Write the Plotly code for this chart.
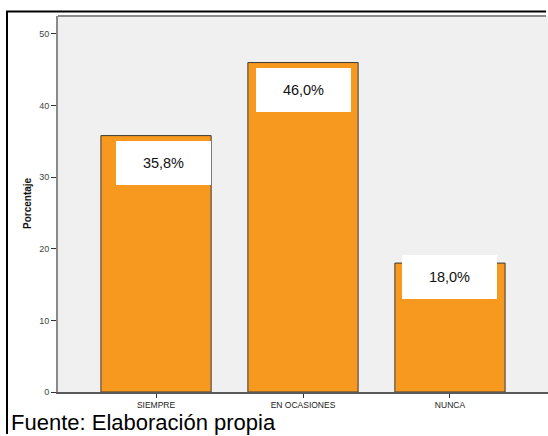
import plotly.graph_objects as go

# Survey responses and their percentages
categories = ["SIEMPRE", "EN OCASIONES", "NUNCA"]
percentages = [35.8, 46.0, 18.0]
value_labels = ["35,8%", "46,0%", "18,0%"]
y_ticks = [0, 10, 20, 30, 40, 50]

W, H = 548, 436
L, R, T, B = 58, 0, 16, 44
plot_w = W - L - R
plot_h = H - T - B


def px_x(px):
    return (px - L) / plot_w


def px_y(py):
    return (H - B - py) / plot_h


FONT = "Liberation Sans, Arial, sans-serif"

fig = go.Figure(
    go.Bar(
        x=categories,
        y=percentages,
        marker=dict(color="#F8991F", line=dict(color="#3a3a3a", width=1)),
        hoverinfo="skip",
    )
)

# white value boxes inside the bars
label_xshift = [7, 0, 0]
label_yshift = [-27, -27, -14]
for cat, val, txt, xs, ys in zip(categories, percentages, value_labels, label_xshift, label_yshift):
    fig.add_annotation(
        x=cat, y=val, xref="x", yref="y",
        text=txt, showarrow=False,
        xshift=xs, yshift=ys,
        width=95, height=44,
        bgcolor="white", borderpad=0, borderwidth=0,
        font=dict(family=FONT, size=14.5, color="#111"),
    )

# vertical axis title
fig.add_annotation(
    xref="paper", yref="paper", x=px_x(27), y=px_y(203),
    xanchor="center", yanchor="middle",
    text="<b>Porcentaje</b>", textangle=-90, showarrow=False,
    font=dict(family=FONT, size=10, color="#111"),
)

# source note (text box kept inside the canvas)
fig.add_annotation(
    xref="paper", yref="paper", x=px_x(9), y=px_y(422),
    xanchor="left", yanchor="middle",
    text="Fuente: Elaboración propia", showarrow=False,
    font=dict(family=FONT, size=22, color="#000"),
)

# outer frame (left and top edges), kept inside the canvas
fig.add_shape(
    type="line", xref="paper", yref="paper",
    x0=px_x(7), x1=px_x(7), y0=px_y(434), y1=px_y(11.5),
    line=dict(color="#000", width=2), layer="above",
)
fig.add_shape(
    type="line", xref="paper", yref="paper",
    x0=px_x(6), x1=px_x(546), y0=px_y(11.5), y1=px_y(11.5),
    line=dict(color="#000", width=2), layer="above",
)
# top edge of the plot area
fig.add_shape(
    type="line", xref="paper", yref="paper",
    x0=0, x1=px_x(546), y0=1, y1=1,
    line=dict(color="#8a8a8a", width=2), layer="above",
)

fig.update_layout(
    width=W, height=H,
    margin=dict(l=L, r=R, t=T, b=B),
    paper_bgcolor="white",
    plot_bgcolor="#F0F0F0",
    bargap=0.25,
    showlegend=False,
    xaxis=dict(
        range=[-0.667, 2.667],
        showgrid=False, zeroline=False,
        showline=True, linecolor="#5a5a5a", linewidth=2,
        ticks="outside", ticklen=4, tickcolor="#333", tickwidth=1,
        tickfont=dict(family=FONT, size=8.5, color="#222"),
    ),
    yaxis=dict(
        range=[0, 52.5],
        tickvals=y_ticks,
        showgrid=False, zeroline=False,
        showline=True, linecolor="#8a8a8a", linewidth=2,
        ticks="outside", ticklen=5, tickcolor="#333", tickwidth=1,
        tickfont=dict(family=FONT, size=9, color="#444"),
    ),
)

fig.write_html("out.html")
